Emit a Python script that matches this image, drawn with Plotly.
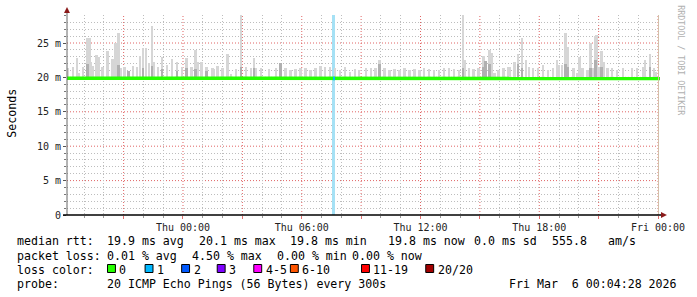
import plotly.graph_objects as go
from datetime import datetime, timedelta

# ---------------- data ----------------
T_THU = datetime(2026, 3, 5, 0, 0)          # Thu 00:00
RANGE_START_H = -5.86
RANGE_END_H = 24.1
Y_MAX = 29.07

# smoke spikes: time (hours relative to Thu 00:00) and top of smoke (ms)
spike_hours = [-5.80, -5.55, -5.35, -5.25, -5.05, -4.80, -4.70, -4.65, -4.55, -4.35,
               -4.25, -4.05, -3.80, -3.55, -3.40, -3.25, -3.15, -2.95, -2.75, -2.50,
               -2.30, -2.15, -2.00, -1.85, -1.70, -1.55, -1.45, -1.25, -1.05, -0.80,
               -0.55, -0.30, -0.05, 0.20, 0.45, 0.65, 0.75, 0.95, 1.20, 1.50,
               1.55, 1.75, 2.00, 2.25, 2.45, 2.70, 2.95, 3.20, 3.45, 3.60,
               3.70, 3.95, 4.35, 4.70, 4.95, 5.20, 5.45, 5.70, 5.95, 6.20,
               6.45, 6.70, 6.95, 7.20, 7.45, 7.70, 7.95, 8.20, 8.45, 8.70,
               8.90, 9.25, 9.50, 9.75, 9.95, 10.20, 10.45, 10.70, 10.95, 11.20,
               11.45, 11.70, 11.95, 12.20, 12.45, 12.70, 12.95, 13.20, 13.45, 13.70,
               13.95, 14.15, 14.25, 14.45, 14.70, 14.95, 15.20, 15.30, 15.50, 15.60,
               15.75, 15.95, 16.20, 16.45, 16.50, 16.75, 16.95, 17.15, 17.35, 17.50,
               17.70, 17.95, 18.20, 18.45, 18.70, 18.90, 19.00, 19.15, 19.35, 19.45,
               19.75, 19.95, 20.05, 20.20, 20.45, 20.60, 20.70, 20.85, 20.90, 21.05,
               21.15, 21.25, 21.45, 21.70, 21.95, 22.25, 22.70, 22.95, 23.25, 23.35,
               23.60, 23.80, 23.90]
spike_peak = [21.4, 21.5, 22.8, 20.6, 21.5, 25.7, 25.7, 22.3, 21.6, 23.3,
              22.9, 21.5, 23.9, 22.7, 25.0, 26.45, 21.4, 21.5, 20.9, 21.6,
              21.5, 23.1, 24.3, 24.3, 22.1, 27.4, 22.3, 21.5, 22.9, 21.8,
              22.7, 22.2, 21.5, 22.8, 21.5, 24.0, 22.3, 22.2, 21.5, 21.3,
              21.2, 21.6, 21.4, 23.4, 20.5, 21.2, 29.5, 21.5, 21.4, 22.8,
              21.4, 21.4, 21.2, 21.4, 22.1, 21.4, 21.1, 21.2, 21.4, 21.4,
              21.1, 21.4, 21.6, 21.5, 21.5, 21.4, 21.1, 21.5, 20.8, 21.2,
              21.1, 21.4, 21.4, 21.4, 22.6, 21.4, 21.1, 21.2, 21.1, 21.4,
              21.1, 21.2, 21.1, 21.4, 21.2, 21.1, 21.1, 21.4, 21.4, 21.2,
              21.1, 29.5, 22.6, 21.4, 21.2, 21.4, 23.1, 22.4, 24.0, 23.5,
              20.6, 21.1, 21.4, 21.5, 21.5, 22.2, 23.4, 25.7, 22.6, 21.5,
              21.3, 21.4, 21.85, 21.1, 21.4, 22.6, 21.85, 21.85, 26.45, 24.4,
              21.4, 20.6, 22.9, 21.3, 21.1, 25.0, 21.4, 26.0, 26.2, 21.5,
              23.9, 22.2, 21.4, 21.4, 21.1, 21.4, 21.4, 21.4, 21.5, 22.6,
              23.4, 21.3, 20.8]

# darker core of the larger smoke spikes
core_hours = [-4.80, -3.25, -2.75, -2.00, -1.55, -1.05, -0.30, 0.20, 0.65, 1.20,
              2.95, 3.60, 4.95, 9.95, 14.15, 15.20, 15.30, 15.50, 16.95, 17.15,
              19.35, 19.45, 20.60, 20.85, 21.15, 23.60]
core_peak = [22.0, 21.8, 21.0, 21.3, 21.6, 21.2, 21.0, 21.3, 21.2, 21.0,
             21.5, 21.4, 22.1, 22.0, 21.4, 21.5, 22.4, 22.0, 22.0, 21.4,
             22.0, 21.5, 21.4, 22.5, 21.5, 21.5]

# median rtt (ms)
median_hours = [-5.86, -4.0, -2.0, 0.0, 2.0, 4.0, 6.0, 8.0, 10.0, 12.0,
                14.0, 16.0, 18.0, 20.0, 22.0, 24.1]
median_vals = [19.88, 19.87, 19.86, 19.85, 19.85, 19.84, 19.85, 19.85, 19.85, 19.85,
               19.85, 19.85, 19.85, 19.85, 19.85, 19.84]

# loss event
loss_hours = [7.62]
loss_median = [19.85]

loss_labels = ["0", "1", "2", "3", "4-5", "6-10", "11-19", "20/20"]
loss_colors = ["#26ff00", "#00b8ff", "#0059ff", "#7e00ff", "#ff00ff", "#ff5500", "#ff0000", "#a00000"]

# axis ticks / grid positions
xtick_hours = [-3, 0, 3, 6, 9, 12, 15, 18, 21, 24]
xtick_text = ["", "Thu 00:00", "", "Thu 06:00", "", "Thu 12:00", "", "Thu 18:00", "", "Fri 00:00"]
xminor_hours = [h for h in range(-5, 25) if h % 3 != 0]
ytick_vals = [0, 5, 10, 15, 20, 25]
ytick_text = ["0", "5 m", "10 m", "15 m", "20 m", "25 m"]
yminor_vals = [v for v in range(1, 30) if v % 5 != 0]

legend_rows = [
    [(16, "median rtt:"), (107, "19.9 ms avg"), (201, "20.1 ms max"), (293, "19.8 ms min"),
     (392, "19.8 ms now"), (479, "0.0 ms sd"), (558, "555.8"), (614, "am/s")],
    [(16, "packet loss:"), (107, "0.01 % avg"), (193, "4.50 % max"), (279, "0.00 % min"),
     (355, "0.00 % now")],
    [(16, "loss color:")],
    [(16, "probe:"), (107, "20 ICMP Echo Pings (56 Bytes) every 300s"),
     (514, "Fri Mar  6 00:04:28 2026")],
]
loss_box_x = [108, 146, 183, 219, 256, 293, 365, 430]

# ---------------- layout constants ----------------
W, H = 697, 297
L, R, T, B = 67, 667, 15, 215
MONO = "DejaVu Sans Mono"
SMOKE_BASE = 19.8
GRID_MINOR = "#bdbdbd"
GRID_MAJOR = "#e06464"
GRID_DASH = "1px,2px"


def hx(h):
    return T_THU + timedelta(hours=h)


def px(x):
    return (x - L) / (R - L)


def py(y):
    return (B - y) / (B - T)


fig = go.Figure()

# loss band
fig.add_trace(go.Bar(x=[hx(h) for h in loss_hours], y=[Y_MAX] * len(loss_hours), base=0,
                     width=9 * 60 * 1000, marker=dict(color="#a5e1f5", line=dict(width=0)),
                     hoverinfo="skip"))
# smoke
fig.add_trace(go.Bar(x=[hx(h) for h in spike_hours], y=[p - SMOKE_BASE for p in spike_peak],
                     base=SMOKE_BASE, width=6 * 60 * 1000,
                     marker=dict(color="#d6d6d6", line=dict(width=0)), hoverinfo="skip"))
fig.add_trace(go.Bar(x=[hx(h) for h in core_hours], y=[p - SMOKE_BASE for p in core_peak],
                     base=SMOKE_BASE, width=6 * 60 * 1000,
                     marker=dict(color="#b0b0b0", line=dict(width=0)), hoverinfo="skip"))
# median line
fig.add_trace(go.Scatter(x=[hx(h) for h in median_hours], y=median_vals, mode="lines",
                         line=dict(color="#26ff00", width=3.5), hoverinfo="skip"))
# loss-colored median segment
fig.add_trace(go.Scatter(x=[hx(h + d) for h in loss_hours for d in (-0.04, 0.06)],
                         y=[v for v in loss_median for _ in (0, 1)], mode="lines",
                         line=dict(color="#00b8ff", width=3.5), hoverinfo="skip"))

fig.update_layout(
    width=W, height=H, margin=dict(l=L, r=W - R, t=T, b=H - B),
    paper_bgcolor="white", plot_bgcolor="white", showlegend=False, barmode="overlay",
    bargap=0,
    font=dict(family=MONO, color="#222"),
)

fig.update_xaxes(
    type="date", range=[hx(RANGE_START_H), hx(RANGE_END_H)],
    tickmode="array", tickvals=[hx(h) for h in xtick_hours], ticktext=xtick_text,
    tickfont=dict(family=MONO, size=10, color="#222"),
    ticks="outside", ticklen=3, tickcolor="#e07070",
    showgrid=False,
    minor=dict(tickmode="array", tickvals=[hx(h) for h in xminor_hours], showgrid=True,
               gridcolor=GRID_MINOR, griddash=GRID_DASH, ticks="outside", ticklen=2,
               tickcolor="#999"),
    showline=False, zeroline=False, fixedrange=True,
)
fig.update_yaxes(
    range=[0, Y_MAX], tickmode="array", tickvals=ytick_vals, ticktext=ytick_text,
    tickfont=dict(family=MONO, size=10, color="#222"),
    ticks="outside", ticklen=3, tickcolor="#555",
    showgrid=False,
    minor=dict(tickmode="array", tickvals=yminor_vals, showgrid=True, gridcolor=GRID_MINOR,
               griddash=GRID_DASH, ticks="outside", ticklen=2, tickcolor="#777"),
    showline=False, zeroline=False, fixedrange=True,
)

shapes = []
# major (red) grid lines
for h in xtick_hours:
    shapes.append(dict(type="line", xref="x", yref="paper", x0=hx(h), x1=hx(h), y0=0, y1=1,
                       layer="below", line=dict(color=GRID_MAJOR, width=1, dash=GRID_DASH)))
for v in ytick_vals[1:]:
    shapes.append(dict(type="line", xref="paper", yref="y", x0=0, x1=1, y0=v, y1=v,
                       layer="below", line=dict(color=GRID_MAJOR, width=1, dash=GRID_DASH)))
# right vertical rule
shapes.append(dict(type="line", xref="paper", yref="paper", x0=px(665.5), x1=px(665.5),
                   y0=0, y1=1, line=dict(color="#d2bfa8", width=1)))
# y axis line + arrow
shapes.append(dict(type="line", xref="paper", yref="paper", x0=0, x1=0, y0=0, y1=py(10),
                   line=dict(color="#666", width=1)))
shapes.append(dict(type="path", xref="paper", yref="paper",
                   path=f"M {px(64)} {py(13)} L {px(70)} {py(13)} L {px(67)} {py(7)} Z",
                   fillcolor="#8b1a1a", line=dict(width=0)))
# x axis line + arrow
shapes.append(dict(type="line", xref="paper", yref="paper", x0=px(63), x1=px(670), y0=0, y1=0,
                   line=dict(color="#000", width=1.5)))
shapes.append(dict(type="path", xref="paper", yref="paper",
                   path=f"M {px(668)} {py(212)} L {px(668)} {py(218)} L {px(674)} {py(215)} Z",
                   fillcolor="#8b1a1a", line=dict(width=0)))
# loss colour boxes
for bx, col in zip(loss_box_x, loss_colors):
    shapes.append(dict(type="rect", xref="paper", yref="paper", x0=px(bx), x1=px(bx + 8),
                       y0=py(272.5), y1=py(264.5), fillcolor=col,
                       line=dict(color="#000", width=1)))
fig.update_layout(shapes=shapes)

ann = []
row_y = [241, 255.5, 269.5, 283.5]
LEG_SIZE = 11.6
for ry, row in zip(row_y, legend_rows):
    for x0, txt in row:
        ann.append(dict(xref="paper", yref="paper", x=px(x0 - 2), y=py(ry), text=txt.replace(" ", "&nbsp;"),
                        showarrow=False, xanchor="left", yanchor="middle",
                        font=dict(family=MONO, size=LEG_SIZE, color="#000")))
for bx, lab in zip(loss_box_x, loss_labels):
    ann.append(dict(xref="paper", yref="paper", x=px(bx + 10), y=py(269.5), text=lab,
                    showarrow=False, xanchor="left", yanchor="middle",
                    font=dict(family=MONO, size=LEG_SIZE, color="#000")))
ann.append(dict(xref="paper", yref="paper", x=px(11), y=py(113), text="Seconds", textangle=-90,
                showarrow=False, xanchor="center", yanchor="middle",
                font=dict(family=MONO, size=11.6, color="#000")))
ann.append(dict(xref="paper", yref="paper", x=px(688), y=py(60), text="RRDTOOL / TOBI OETIKER",
                textangle=90, showarrow=False, xanchor="center", yanchor="middle",
                font=dict(family=MONO, size=8.3, color="#b0b0b0")))
fig.update_layout(annotations=ann)

fig.write_html("out.html")
